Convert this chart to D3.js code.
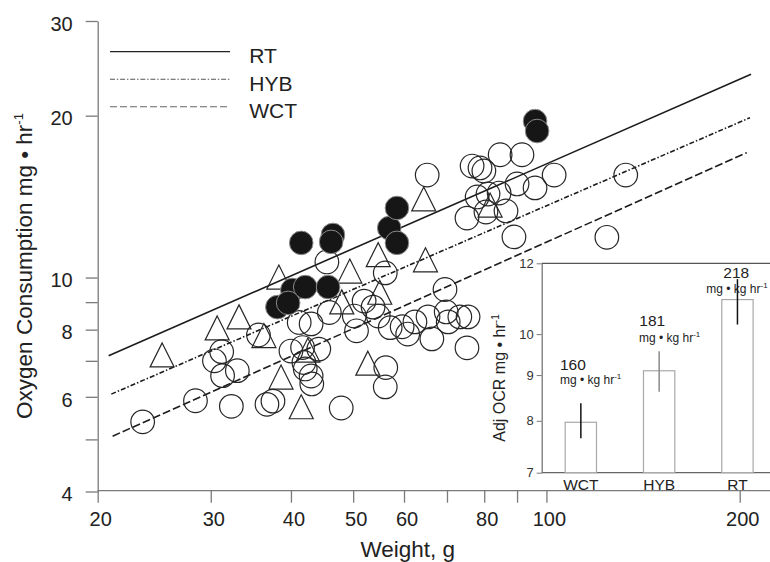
<!DOCTYPE html>
<html><head><meta charset="utf-8">
<script src="https://cdn.jsdelivr.net/npm/d3@7"></script>
<style>
body{margin:0;background:#fff}
svg{display:block;font-family:"Liberation Sans",Arial,Helvetica,sans-serif}
</style>
</head><body>
<svg id="chart" width="770" height="562"></svg>
<script>
// ---------- DATA ----------
const wctWeight = [23.5, 28.4, 31.2, 30.4, 31.3, 33.0, 32.3, 36.7, 37.5, 35.6,
  40.0, 41.7, 44.2, 41.9, 42.1, 43.0, 43.1, 41.2, 43.0, 45.9,
  50.6, 50.2, 52.0, 53.7, 45.5, 56.1, 47.9, 56.2, 56.1, 54.7,
  57.1, 59.6, 60.8, 62.4, 65.4, 66.3, 69.8, 70.3, 73.3, 75.5,
  69.5, 75.2, 65.2, 76.6, 78.8, 79.9, 84.7, 91.6, 102.8, 90.0,
  96.0, 78.0, 81.1, 84.4, 75.2, 80.5, 86.5, 89.0, 124.2, 132.9];
const wctOxygen = [5.39, 5.90, 7.28, 7.00, 6.57, 6.71, 5.76, 5.81, 5.89, 7.82,
  7.30, 7.41, 7.36, 6.95, 6.76, 6.56, 6.34, 8.25, 8.20, 8.61,
  7.96, 8.48, 9.04, 8.81, 10.69, 10.20, 5.72, 6.80, 6.26, 8.48,
  8.07, 8.10, 7.85, 8.27, 8.45, 7.69, 8.63, 8.27, 8.45, 8.45,
  9.50, 7.40, 15.51, 16.12, 15.99, 15.78, 16.92, 16.92, 15.51, 14.93,
  14.68, 14.12, 14.30, 14.36, 12.90, 13.24, 13.30, 11.90, 11.88, 15.51];

const hybWeight = [25.2, 30.7, 33.2, 36.3, 38.6, 41.5, 38.3, 49.4, 54.7, 64.8, 64.4, 48.0, 55.0, 42.5, 52.7, 81.7];
const hybOxygen = [7.18, 8.06, 8.45, 7.80, 6.53, 5.75, 10.02, 10.28, 11.03, 10.79, 14.00, 9.01, 9.39, 7.33, 6.93, 13.64];

const rtWeight = [41.5, 46.5, 46.2, 56.9, 58.5, 58.5, 40.2, 42.1, 45.7, 38.1, 39.6, 96.0, 96.7];
const rtOxygen = [11.60, 12.00, 11.65, 12.36, 11.60, 13.47, 9.48, 9.60, 9.60, 8.81, 8.97, 19.54, 18.73];

// regression line end points (weight, oxygen)
const rtFitWeight = [20.8, 208.3],  rtFitOxygen = [7.155, 23.88];
const hybFitWeight = [21.0, 207.5], hybFitOxygen = [6.07, 19.83];
const wctFitWeight = [21.1, 205.1], wctFitOxygen = [5.07, 17.07];

const legendLabels = ["RT", "HYB", "WCT"];

const xTickValues = [20, 30, 40, 50, 60, 70, 80, 90, 100, 200];
const xTickLabels = [20, 30, 40, 50, 60, 80, 100, 200];
const yTickValues = [4, 5, 6, 7, 8, 9, 10, 20, 30];
const yTickLabels = [4, 6, 8, 10, 20, 30];

// inset
const insetCategories = ["WCT", "HYB", "RT"];
const insetValues = [7.97, 9.10, 10.93];
const insetErrLow = [7.65, 8.62, 10.25];
const insetErrHigh = [8.37, 9.57, 11.52];
const insetRateLabels = ["160", "181", "218"];
const insetTicks = [7, 8, 9, 10, 12];

// ---------- LAYOUT ----------
const svg = d3.select("#chart");
const W = 770;
const x = d3.scaleLog().domain([20, 200]).range([97.7, 739.7]);
const y = d3.scaleLog().domain([4, 30]).range([491.5, 21]);
const axisY = 490.7;
const ink = "#1c1c1c";
const axisGray = "#7a7a7a";

// x axis
const xAxisG = svg.append("g").attr("transform", `translate(0,${axisY})`)
  .call(d3.axisBottom(x).tickValues(xTickValues)
    .tickFormat(d => xTickLabels.includes(d) ? d : "")
    .tickSize(12).tickSizeOuter(0).tickPadding(9.5));
xAxisG.select(".domain").remove();
xAxisG.append("line").attr("x1", x(20)).attr("x2", W).attr("stroke", axisGray).attr("stroke-width", 1.3);
xAxisG.selectAll(".tick line").attr("stroke", axisGray).attr("stroke-width", 1.3);
xAxisG.selectAll(".tick text").attr("fill", "#222").attr("font-size", 20).attr("dx", 2.5)
  .attr("font-family", "Liberation Sans, Arial, sans-serif");

// y axis
const yAxisG = svg.append("g").attr("transform", `translate(${x(20)},0)`)
  .call(d3.axisLeft(y).tickValues(yTickValues)
    .tickFormat(d => yTickLabels.includes(d) ? d : "")
    .tickSize(12).tickSizeOuter(0).tickPadding(13));
yAxisG.select(".domain").attr("stroke", axisGray).attr("stroke-width", 1.3);
yAxisG.selectAll(".tick line").attr("stroke", axisGray).attr("stroke-width", 1.3);
yAxisG.selectAll(".tick text").attr("fill", "#222").attr("font-size", 20).attr("dy", "0.46em")
  .attr("font-family", "Liberation Sans, Arial, sans-serif");

// axis titles
const yt = svg.append("text").attr("transform", "translate(31.5,266) rotate(-90)")
  .attr("text-anchor", "middle").attr("font-size", 22.5).attr("fill", "#222");
yt.append("tspan").text("Oxygen Consumption mg • hr");
yt.append("tspan").attr("font-size", 13).attr("dy", -9).text("-1");

svg.append("text").attr("x", 407.7).attr("y", 557).attr("text-anchor", "middle")
  .attr("font-size", 22.5).attr("fill", "#222").text("Weight, g");

// regression lines
const line = d3.line().x(d => x(d[0])).y(d => y(d[1]));
const fits = [
  {w: rtFitWeight, o: rtFitOxygen, dash: null},
  {w: hybFitWeight, o: hybFitOxygen, dash: "5,2,1.5,2"},
  {w: wctFitWeight, o: wctFitOxygen, dash: "8,3"}
];
fits.forEach(f => {
  svg.append("path").datum(d3.zip(f.w, f.o)).attr("d", line)
    .attr("fill", "none").attr("stroke", ink).attr("stroke-width", 1.6)
    .attr("stroke-dasharray", f.dash);
});

// points: WCT open circles
const r = 11.8;
svg.append("g").selectAll("circle").data(d3.zip(wctWeight, wctOxygen)).join("circle")
  .attr("cx", d => x(d[0])).attr("cy", d => y(d[1])).attr("r", r)
  .attr("fill", "none").attr("stroke", "#262626").attr("stroke-width", 1.2);

// HYB open triangles
svg.append("g").selectAll("path").data(d3.zip(hybWeight, hybOxygen)).join("path")
  .attr("transform", d => `translate(${x(d[0])},${y(d[1])})`)
  .attr("d", "M0,-12L12,12L-12,12Z")
  .attr("fill", "none").attr("stroke", "#262626").attr("stroke-width", 1.2)
  .attr("stroke-linejoin", "miter");

// RT filled circles
svg.append("g").selectAll("circle").data(d3.zip(rtWeight, rtOxygen)).join("circle")
  .attr("cx", d => x(d[0])).attr("cy", d => y(d[1])).attr("r", r)
  .attr("fill", "#161616").attr("stroke", "#8c8c8c").attr("stroke-width", 1);

// legend
const legendStyles = [
  {dash: null, color: "#222", w: 1.2},
  {dash: "5,1.8,1.5,1.8", color: "#555", w: 1.1},
  {dash: "7,3", color: "#666", w: 1.1}
];
const lg = svg.append("g");
legendLabels.forEach((lab, i) => {
  const ly = 51.7 + i * 27.5;
  lg.append("line").attr("x1", 110).attr("x2", 230).attr("y1", ly).attr("y2", ly)
    .attr("stroke", legendStyles[i].color).attr("stroke-width", legendStyles[i].w)
    .attr("stroke-dasharray", legendStyles[i].dash);
  lg.append("text").attr("x", 249.3).attr("y", ly + 11.3).attr("font-size", 21)
    .attr("fill", "#222").text(lab);
});

// ---------- INSET ----------
const ix = d3.scaleBand().domain(insetCategories).range([541.7, 776.6]).paddingInner(0.6).paddingOuter(0.3);
const iy = d3.scaleLog().domain([7, 12]).range([472.7, 263.3]);
const ig = svg.append("g");
ig.append("rect").attr("x", ix.range()[0]).attr("y", iy(12)).attr("width", W - ix.range()[0])
  .attr("height", iy(7) - iy(12)).attr("fill", "#fff");

// frame lines
ig.append("line").attr("x1", ix.range()[0]).attr("x2", W).attr("y1", iy(12)).attr("y2", iy(12))
  .attr("stroke", "#555").attr("stroke-width", 1.3);
ig.append("line").attr("x1", ix.range()[0]).attr("x2", W).attr("y1", iy(7)).attr("y2", iy(7))
  .attr("stroke", "#666").attr("stroke-width", 1.3);

const iAxis = ig.append("g").attr("transform", `translate(${ix.range()[0]},0)`)
  .call(d3.axisLeft(iy).tickValues(insetTicks).tickFormat(d3.format("d"))
    .tickSize(5).tickSizeOuter(0).tickPadding(3));
iAxis.select(".domain").attr("stroke", "#777").attr("stroke-width", 1.3);
iAxis.selectAll(".tick line").attr("stroke", "#777");
iAxis.selectAll(".tick text").attr("font-size", 13).attr("fill", "#333")
  .attr("font-family", "Liberation Sans, Arial, sans-serif");

// bars
ig.selectAll("rect.bar").data(insetCategories).join("rect").attr("class", "bar")
  .attr("x", d => ix(d)).attr("width", ix.bandwidth())
  .attr("y", (d, i) => iy(insetValues[i])).attr("height", (d, i) => iy(7) - iy(insetValues[i]))
  .attr("fill", "#fff").attr("stroke", "#a8a8a8").attr("stroke-width", 1.2);

// error bars
const errColors = ["#111", "#8a8a8a", "#111"];
ig.selectAll("line.err").data(insetCategories).join("line").attr("class", "err")
  .attr("x1", d => ix(d) + ix.bandwidth() / 2).attr("x2", d => ix(d) + ix.bandwidth() / 2)
  .attr("y1", (d, i) => iy(insetErrHigh[i])).attr("y2", (d, i) => iy(insetErrLow[i]))
  .attr("stroke", (d, i) => errColors[i]).attr("stroke-width", 1.5);

// category labels
ig.selectAll("text.cat").data(insetCategories).join("text").attr("class", "cat")
  .attr("x", d => ix(d) + ix.bandwidth() / 2).attr("y", 490)
  .attr("text-anchor", "middle").attr("font-size", 15.5).attr("fill", "#222").text(d => d);

// rate labels (offsets relative to bar left / bar top)
const labelLayout = [
  {vx: -5.2, vy: -52, mx: -5.2, my: -38},
  {vx: -4.2, vy: -45, mx: -4.5, my: -28.7},
  {vx: 1.5, vy: -22, mx: -15.5, my: -7}
];
insetCategories.forEach((c, i) => {
  const bx = ix(c), by = iy(insetValues[i]), L = labelLayout[i];
  ig.append("text").attr("x", bx + L.vx).attr("y", by + L.vy)
    .attr("font-size", 15.5).attr("fill", "#222").text(insetRateLabels[i]);
  const t = ig.append("text").attr("x", bx + L.mx).attr("y", by + L.my)
    .attr("font-size", 12).attr("fill", "#222");
  t.append("tspan").text("mg • kg hr");
  t.append("tspan").attr("font-size", 8).attr("dy", -5).text("-1");
});

// inset y title
const it = ig.append("text").attr("transform", "translate(505,378) rotate(-90)")
  .attr("text-anchor", "middle").attr("font-size", 16).attr("fill", "#222");
it.append("tspan").text("Adj OCR mg • hr");
it.append("tspan").attr("font-size", 10).attr("dy", -6).text("-1");
</script>
</body></html>
